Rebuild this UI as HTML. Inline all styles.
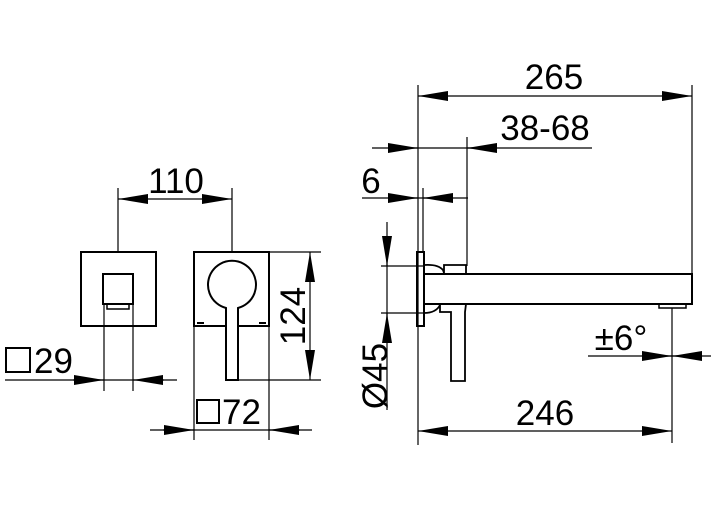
<!DOCTYPE html><html><head><style>body{margin:0;background:#fff}svg{display:block}text{font-family:"Liberation Sans",sans-serif;font-size:35px;fill:#000}</style></head><body>
<svg width="711" height="506" viewBox="0 0 711 506" xmlns="http://www.w3.org/2000/svg">
<defs>
<marker id="a" viewBox="0 0 30 10" refX="30" refY="5" markerWidth="30" markerHeight="10" markerUnits="userSpaceOnUse" orient="auto"><path d="M0,0L30,5L0,10z"/></marker>
</defs>
<g stroke="#000" fill="none" stroke-width="1.2">
<rect x="81" y="252" width="75" height="74" stroke-width="2"/>
<rect x="103" y="274" width="30" height="30" stroke-width="2"/>
<rect x="107" y="304" width="22" height="5" stroke-width="1.5"/>
<line x1="104" y1="304" x2="104" y2="391"/><line x1="133" y1="304" x2="133" y2="391"/>
<line x1="5" y1="380" x2="177" y2="380"/>
<line x1="73" y1="380" x2="104" y2="380" marker-end="url(#a)"/>
<line x1="164" y1="380" x2="133" y2="380" marker-end="url(#a)"/>
<line x1="118" y1="188" x2="118" y2="252"/><line x1="232" y1="188" x2="232" y2="252"/>
<line x1="175" y1="199" x2="118" y2="199" marker-end="url(#a)"/>
<line x1="175" y1="199" x2="232" y2="199" marker-end="url(#a)"/>
<rect x="194" y="252" width="75" height="74" stroke-width="2"/>
<line x1="194" y1="326" x2="194" y2="440"/><line x1="269" y1="326" x2="269" y2="440"/>
<path d="M226,308 A24,24 0 1 1 238,308 L238,380 L226,380 Z" stroke-width="2" fill="#fff"/>
<line x1="197" y1="323" x2="204" y2="323" stroke-width="2"/><line x1="259" y1="323" x2="266" y2="323" stroke-width="2"/>
<line x1="269" y1="252" x2="321" y2="252"/><line x1="238" y1="380" x2="321" y2="380"/>
<line x1="310" y1="316" x2="310" y2="252" marker-end="url(#a)"/>
<line x1="310" y1="316" x2="310" y2="380" marker-end="url(#a)"/>
<line x1="150" y1="430" x2="312" y2="430"/>
<line x1="163" y1="430" x2="194" y2="430" marker-end="url(#a)"/>
<line x1="300" y1="430" x2="269" y2="430" marker-end="url(#a)"/>
<line x1="418" y1="85" x2="418" y2="445"/>
<line x1="692" y1="85" x2="692" y2="275"/>
<line x1="555" y1="96" x2="418" y2="96" marker-end="url(#a)"/>
<line x1="555" y1="96" x2="692" y2="96" marker-end="url(#a)"/>
<line x1="467" y1="137" x2="467" y2="266"/>
<line x1="372" y1="148" x2="592" y2="148"/>
<line x1="388" y1="148" x2="418" y2="148" marker-end="url(#a)"/>
<line x1="497" y1="148" x2="467" y2="148" marker-end="url(#a)"/>
<line x1="423" y1="188" x2="423" y2="252"/>
<line x1="362" y1="198" x2="468" y2="198"/>
<line x1="388" y1="198" x2="418" y2="198" marker-end="url(#a)"/>
<line x1="453" y1="198" x2="423" y2="198" marker-end="url(#a)"/>
<rect x="417" y="252" width="7" height="74" stroke-width="2"/>
<path d="M424,274 L692,274 L692,304 L424,304" stroke-width="2"/>
<path d="M424,265 Q438,264 443,270 L444,273 M444,273 L444,265 L466,265 L466,273" stroke-width="1.8"/>
<path d="M424,313 Q436,313 440,305 L440,312 L451,312 L451,381 L465,381 L465,312 L466,304" stroke-width="1.8"/>
<rect x="659" y="304" width="27" height="4" stroke-width="1.5"/>
<line x1="381" y1="266" x2="424" y2="266"/><line x1="381" y1="313" x2="424" y2="313"/>
<line x1="387" y1="222" x2="387" y2="410"/>
<line x1="387" y1="236" x2="387" y2="266" marker-end="url(#a)"/>
<line x1="387" y1="343" x2="387" y2="313" marker-end="url(#a)"/>
<line x1="672" y1="308" x2="672" y2="443"/>
<line x1="588" y1="356" x2="711" y2="356"/>
<line x1="642" y1="356" x2="672" y2="356" marker-end="url(#a)"/>
<line x1="702" y1="356" x2="672" y2="356" marker-end="url(#a)"/>
<line x1="545" y1="431" x2="418" y2="431" marker-end="url(#a)"/>
<line x1="545" y1="431" x2="672" y2="431" marker-end="url(#a)"/>
<rect x="6" y="348" width="24" height="24" stroke-width="2"/>
<rect x="197" y="400" width="22" height="23" stroke-width="2"/>
</g>
<text x="176" y="193" text-anchor="middle">110</text>
<text x="34" y="373">29</text>
<text x="222" y="424">72</text>
<text transform="translate(305,316) rotate(-90)" text-anchor="middle">124</text>
<text x="554" y="89" text-anchor="middle">265</text>
<text x="545" y="140" text-anchor="middle">38-68</text>
<text x="371" y="193" text-anchor="middle">6</text>
<text transform="translate(387,376) rotate(-90)" text-anchor="middle">Ø45</text>
<text x="621" y="350" text-anchor="middle">±6°</text>
<text x="545" y="425" text-anchor="middle">246</text>
</svg>
</body></html>
